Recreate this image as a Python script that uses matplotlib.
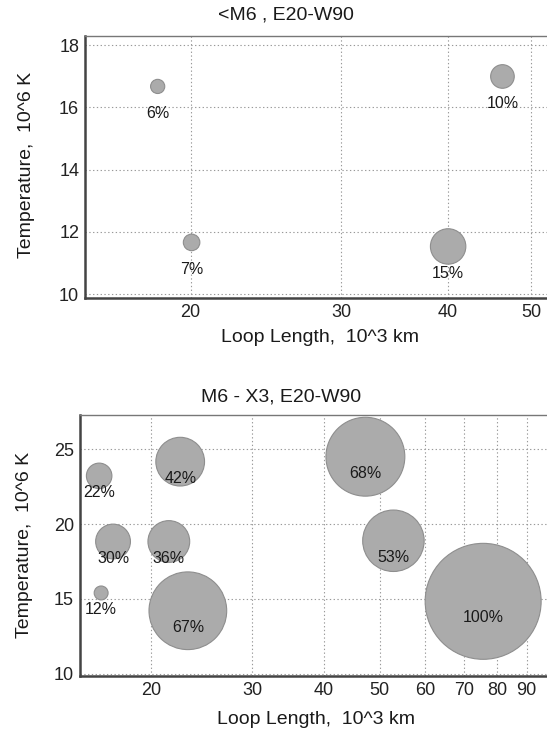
import matplotlib.pyplot as plt
from matplotlib.ticker import FixedLocator, NullLocator

plt.rcParams['font.family'] = ['Liberation Sans', 'DejaVu Sans']

# top panel: <M6 , E20-W90
top_len = [18.3, 20.05, 40.0, 46.3]
top_temp = [16.67, 11.66, 11.53, 16.99]
top_pct = [6, 7, 15, 10]
top_xticks = [20, 30, 40, 50]
top_yticks = [10, 12, 14, 16, 18]

# bottom panel: M6 - X3, E20-W90
bot_len = [16.27, 16.4, 17.2, 21.5, 22.5, 23.2, 47.2, 52.8, 75.6]
bot_temp = [23.22, 15.39, 18.83, 18.83, 24.17, 14.2, 24.5, 18.88, 14.83]
bot_pct = [22, 12, 30, 36, 42, 67, 68, 53, 100]
bot_xticks = [20, 30, 40, 50, 60, 70, 80, 90]
bot_yticks = [10, 15, 20, 25]

W, H = 547, 736
fig = plt.figure(figsize=(W / 100, H / 100), dpi=100)


def bubble_panel(rect, xs, ys, pct, size_k, lab_off, xlim, ylim, xticks, yticks):
    ax = fig.add_axes(rect)
    ax.set_xscale('log')
    ax.set_xlim(*xlim)
    ax.set_ylim(*ylim)
    ax.xaxis.set_major_locator(FixedLocator(xticks))
    ax.xaxis.set_minor_locator(NullLocator())
    ax.set_xticklabels([str(t) for t in xticks])
    ax.set_yticks(yticks)
    ax.grid(True, which='major', linestyle=(0, (1.2, 2.2)), color='#999999', lw=0.8)
    ax.set_axisbelow(True)
    ax.tick_params(length=0, labelsize=13, colors='#222222', pad=5)
    ax.tick_params(axis='y', pad=4)
    for side in ['left', 'bottom']:
        ax.spines[side].set_linewidth(1.8)
        ax.spines[side].set_color('#444444')
    ax.spines['top'].set_linewidth(1.0)
    ax.spines['top'].set_color('#777777')
    ax.spines['right'].set_visible(False)
    sizes = [(size_k * p) ** 2 for p in pct]
    ax.scatter(xs, ys, s=sizes, c='#ababab', edgecolors='#8e8e8e', linewidths=0.8,
               zorder=3, clip_on=True)
    for x, y, p in zip(xs, ys, pct):
        ax.annotate(f'{p}%', (x, y), xytext=(0, lab_off), textcoords='offset points',
                    ha='center', va='center', fontsize=11.5, color='#1a1a1a', zorder=4)
    return ax


# top axes: left 84.8px, top 36px, bottom 297.5px
bubble_panel([84.8 / W, 1 - 297.5 / H, 1 - 84.8 / W, (297.5 - 36) / H],
             top_len, top_temp, top_pct, 1.70, -27 * 0.72,
             (15.04, 52.2), (9.89, 18.29), top_xticks, top_yticks)

# bottom axes: left 79.5px, top 415px, bottom 675.5px
bubble_panel([79.5 / W, 1 - 675.5 / H, 1 - 79.5 / W, (675.5 - 415) / H],
             bot_len, bot_temp, bot_pct, 0.835, -16.5 * 0.72,
             (15.04, 97.6), (9.87, 27.29), bot_xticks, bot_yticks)

tc = '#1a1a1a'
fig.text(286 / W, 1 - 15 / H, '<M6 , E20-W90', ha='center', va='center', fontsize=14, color=tc)
fig.text(320 / W, 1 - 338 / H, 'Loop Length,  10^3 km', ha='center', va='center', fontsize=14, color=tc)
fig.text(27 / W, 1 - 165 / H, 'Temperature,  10^6 K', ha='center', va='center', rotation=90,
         fontsize=14, color=tc)

fig.text(281 / W, 1 - 397 / H, 'M6 - X3, E20-W90', ha='center', va='center', fontsize=14, color=tc)
fig.text(316 / W, 1 - 720 / H, 'Loop Length,  10^3 km', ha='center', va='center', fontsize=14, color=tc)
fig.text(24.4 / W, 1 - 545 / H, 'Temperature,  10^6 K', ha='center', va='center', rotation=90,
         fontsize=14, color=tc)

fig.savefig('out.png', dpi=100)
